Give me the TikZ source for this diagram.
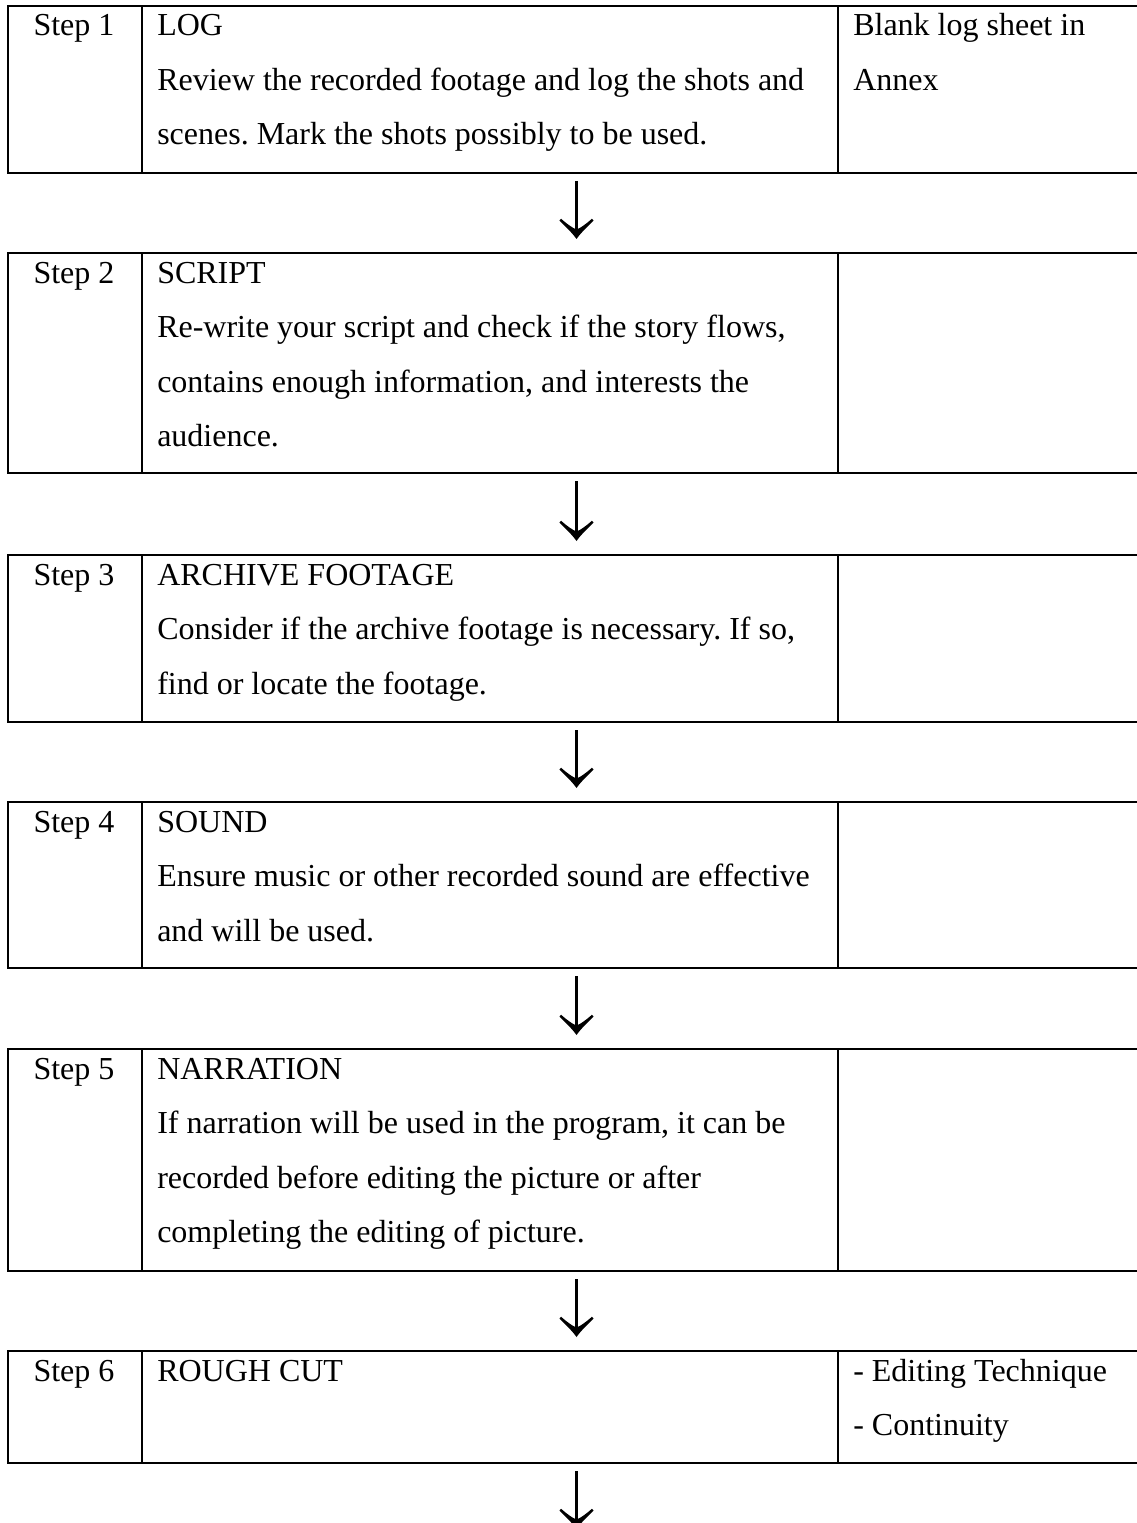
\documentclass[tikz,border=0pt]{standalone}
\usepackage{fontspec}
\setmainfont{Liberation Serif}
\usetikzlibrary{calc,arrows.meta}
\frenchspacing

% Down-arrow head shaped like a typeset arrow glyph
\pgfdeclarearrow{
  name = GlyphHead,
  setup code = {
    \pgfarrowssettipend{0pt}
    \pgfarrowssetlineend{-7pt}
    \pgfarrowssetbackend{-15pt}
    \pgfarrowssetvisualbackend{-7pt}
    \pgfarrowshullpoint{0pt}{0pt}
    \pgfarrowshullpoint{-15pt}{13pt}
    \pgfarrowshullpoint{-15pt}{-13pt}
  },
  drawing code = {
    \pgfpathmoveto{\pgfpoint{0pt}{0pt}}
    \pgfpathcurveto{\pgfpoint{-5pt}{3.5pt}}{\pgfpoint{-9.5pt}{8.5pt}}{\pgfpoint{-13.8pt}{12.8pt}}
    \pgfpathlineto{\pgfpoint{-15.2pt}{11.6pt}}
    \pgfpathcurveto{\pgfpoint{-11.5pt}{7.5pt}}{\pgfpoint{-8.5pt}{3.2pt}}{\pgfpoint{-7.5pt}{0.9pt}}
    \pgfpathlineto{\pgfpoint{-7.5pt}{-0.9pt}}
    \pgfpathcurveto{\pgfpoint{-8.5pt}{-3.2pt}}{\pgfpoint{-11.5pt}{-7.5pt}}{\pgfpoint{-15.2pt}{-11.6pt}}
    \pgfpathlineto{\pgfpoint{-13.8pt}{-12.8pt}}
    \pgfpathcurveto{\pgfpoint{-9.5pt}{-8.5pt}}{\pgfpoint{-5pt}{-3.5pt}}{\pgfpoint{0pt}{0pt}}
    \pgfpathclose
    \pgfusepathqfill
  }
}

\tikzset{
  rowbox/.style={draw, line width=2.2pt, rectangle, inner sep=0pt, outer sep=0pt,
                 minimum width=852.75pt},
  divider/.style={line width=2.2pt},
  stepflow/.style={line width=1.8pt, -{GlyphHead}},
  txt/.style={anchor=base west, inner sep=0pt, font=\fontsize{24pt}{28pt}\selectfont},
  steplbl/.style={anchor=base, inner sep=0pt, font=\fontsize{24pt}{28pt}\selectfont},
}

\begin{document}
\begin{tikzpicture}[x=0.75pt,y=-0.75pt]
\clip (0,0) rectangle (1137,1523);
\fill[white] (0,0) rectangle (1137,1523);

% rows of the table (right border runs past the page edge)
\node[rowbox, minimum height=125.25pt] (r1) at (576.5, 89.5) {};
\node[rowbox, minimum height=165pt]    (r2) at (576.5, 363) {};
\node[rowbox, minimum height=125.25pt] (r3) at (576.5, 638.5) {};
\node[rowbox, minimum height=124.5pt]  (r4) at (576.5, 885) {};
\node[rowbox, minimum height=166.5pt]  (r5) at (576.5, 1160) {};
\node[rowbox, minimum height=84pt]     (r6) at (576.5, 1407) {};

% column dividers
\foreach \r in {r1,r2,r3,r4,r5,r6}{
  \draw[divider] ($(\r.north west)+(134,0)$) -- ($(\r.south west)+(134,0)$);
  \draw[divider] ($(\r.north west)+(830,0)$) -- ($(\r.south west)+(830,0)$);
}

% Step 1
\node[steplbl] (s1) at (74,36) {Step 1};
\node[txt] (t1a) at (157,36) {LOG};
\node[txt] (t1b) at (157,90.5) {Review the recorded footage and log the shots and};
\node[txt] (t1c) at (157,145) {scenes. Mark the shots possibly to be used.};
\node[txt] (n1a) at (853,36) {Blank log sheet in};
\node[txt] (n1b) at (853,90.5) {Annex};

% Step 2
\node[steplbl] (s2) at (74,283) {Step 2};
\node[txt] (t2a) at (157,283) {SCRIPT};
\node[txt] (t2b) at (157,337.5) {Re-write your script and check if the story flows,};
\node[txt] (t2c) at (157,392) {contains enough information, and interests the};
\node[txt] (t2d) at (157,446.5) {audience.};

% Step 3
\node[steplbl] (s3) at (74,585) {Step 3};
\node[txt] (t3a) at (157,585) {ARCHIVE FOOTAGE};
\node[txt] (t3b) at (157,639.5) {Consider if the archive footage is necessary. If so,};
\node[txt] (t3c) at (157,694) {find or locate the footage.};

% Step 4
\node[steplbl] (s4) at (74,832) {Step 4};
\node[txt] (t4a) at (157,832) {SOUND};
\node[txt] (t4b) at (157,886.5) {Ensure music or other recorded sound are effective};
\node[txt] (t4c) at (157,941) {and will be used.};

% Step 5
\node[steplbl] (s5) at (74,1079) {Step 5};
\node[txt] (t5a) at (157,1079) {NARRATION};
\node[txt] (t5b) at (157,1133.5) {If narration will be used in the program, it can be};
\node[txt] (t5c) at (157,1188) {recorded before editing the picture or after};
\node[txt] (t5d) at (157,1242.5) {completing the editing of picture.};

% Step 6
\node[steplbl] (s6) at (74,1381) {Step 6};
\node[txt] (t6a) at (157,1381) {ROUGH CUT};
\node[txt] (n6a) at (853,1381) {- Editing Technique};
\node[txt] (n6b) at (853,1435.5) {- Continuity};

% flow arrows between the steps
\coordinate (after6) at ($(r6.south)+(0,80)$);
\draw[stepflow] ($(r1.south)+(0,8)$) -- ($(r2.north)+(0,-14)$);
\draw[stepflow] ($(r2.south)+(0,8)$) -- ($(r3.north)+(0,-14)$);
\draw[stepflow] ($(r3.south)+(0,8)$) -- ($(r4.north)+(0,-14)$);
\draw[stepflow] ($(r4.south)+(0,8)$) -- ($(r5.north)+(0,-14)$);
\draw[stepflow] ($(r5.south)+(0,8)$) -- ($(r6.north)+(0,-14)$);
\draw[stepflow] ($(r6.south)+(0,8)$) -- ($(after6)+(0,-14)$);
\end{tikzpicture}
\end{document}
